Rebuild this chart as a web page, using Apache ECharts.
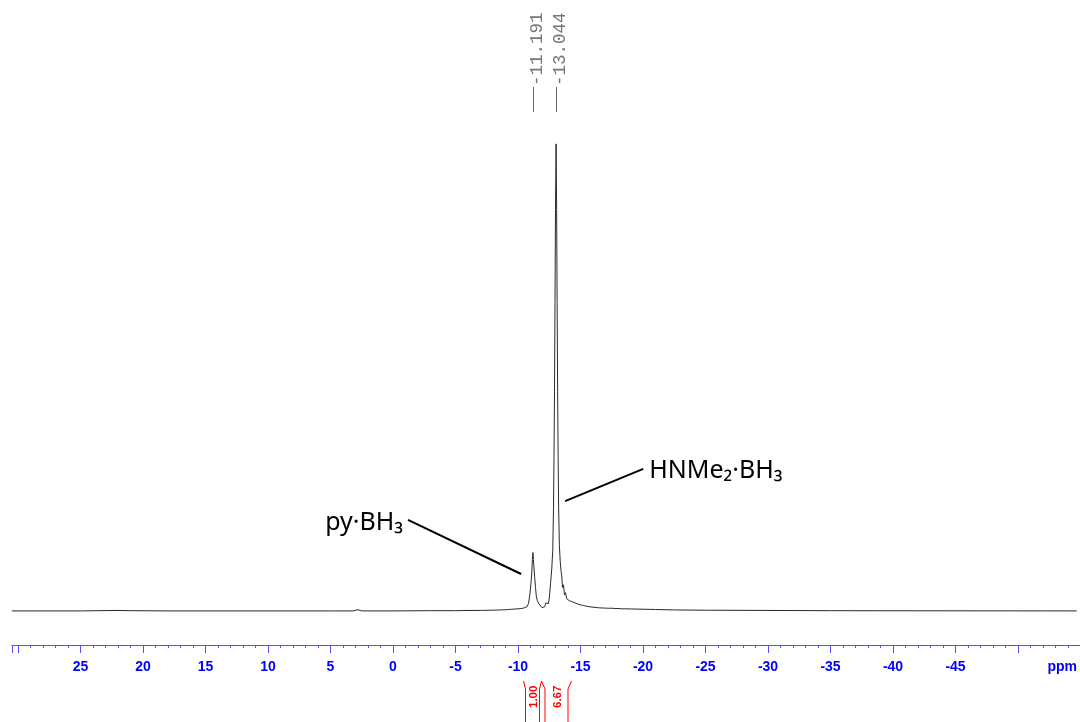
<!DOCTYPE html>
<html>
<head>
<meta charset="utf-8">
<title>11B NMR spectrum</title>
<script src="https://cdn.jsdelivr.net/npm/echarts@6/dist/echarts.min.js"></script>
<style>
  html, body { margin: 0; padding: 0; background: #ffffff; }
  #chart { width: 1080px; height: 722px; }
</style>
</head>
<body>
<div id="chart"></div>
<script>
// Chemical shift (ppm) and relative intensity of the 11B spectrum trace
const shiftPpm = [
  30.5, 25, 22, 21, 18, 10, 5, 3.2, 2.8, 2.5, 0, -3, -5, -6,
  -7.0, -7.12, -7.25, -7.37, -7.5, -7.62, -7.75, -7.87, -8.0, -8.12, -8.25, -8.37,
  -8.5, -8.62, -8.75, -8.87, -9.0, -9.12, -9.25, -9.37, -9.5, -9.62, -9.75, -9.87,
  -10.0, -10.12, -10.25, -10.37, -10.5, -10.62, -10.72, -10.84, -10.92, -10.96,
  -11.04, -11.10, -11.15, -11.191, -11.23, -11.27, -11.33, -11.40, -11.47, -11.55,
  -11.65, -11.76, -11.92, -12.06, -12.14, -12.22, -12.30, -12.38, -12.44, -12.52,
  -12.60, -12.70, -12.78, -12.84, -12.88, -12.92, -12.96, -13.00, -13.044, -13.09,
  -13.13, -13.17, -13.21, -13.25, -13.31, -13.38, -13.44, -13.50, -13.56, -13.64,
  -13.72, -13.80, -13.90, -14.00, -14.10, -14.20, -14.30, -14.40, -14.50, -14.62,
  -14.75, -14.87, -15.0, -15.12, -15.25, -15.37, -15.5, -15.62, -15.75, -15.87,
  -16.0, -16.12, -16.25, -16.37, -16.5, -16.62, -16.75, -16.87, -17.0, -17.25,
  -17.5, -17.75, -18.0, -18.25, -18.5, -19.0, -20.0, -21.0, -22.7, -25, -30, -35,
  -40, -54.7
];
const intensity = [
  0, 0, 0.1, 0.05, 0, 0, 0, 0, 0.25, 0, 0, 0.05, 0.05, 0.1,
  0.1, -0.05, 0.12, -0.05, 0.12, 0, 0.15, 0, 0.15, 0, 0.18, 0.02,
  0.2, 0.05, 0.22, 0.05, 0.25, 0.08, 0.3, 0.1, 0.35, 0.15, 0.4, 0.2,
  0.45, 0.3, 0.5, 0.45, 0.65, 0.7, 0.9, 1.6, 3.0, 3.85,
  6.0, 8.1, 11.0, 12.5, 11.0, 9.5, 7.3, 5.0, 3.0, 2.2,
  1.6, 1.3, 0.7, 0.4, 0.9, 1.7, 2.0, 1.3, 1.6, 3.2,
  5.8, 9.0, 13.0, 22.0, 33.0, 47.0, 66.0, 86.0, 100, 86.0,
  66.0, 47.0, 33.0, 22.0, 14.0, 10.5, 8.6, 7.5, 5.0, 5.6,
  3.4, 3.9, 2.6, 2.9, 2.2, 2.4, 2.0, 2.1, 1.8, 1.9,
  1.5, 1.55, 1.3, 1.35, 1.15, 1.2, 1.0, 1.05, 0.88, 0.95,
  0.8, 0.85, 0.72, 0.78, 0.66, 0.72, 0.62, 0.68, 0.6, 0.56,
  0.58, 0.5, 0.52, 0.44, 0.46, 0.42, 0.36, 0.3, 0.2, 0.15, 0.1, 0.05,
  0.03, 0
];

// Axis tick labels shown on the shift axis
const tickLabels = ['25', '20', '15', '10', '5', '0', '-5', '-10', '-15', '-20', '-25', '-30', '-35', '-40', '-45'];

// Peak picking
const peakShifts = [-11.191, -13.044];
const peakLabels = ['-11.191', '-13.044'];

// Integral regions (ppm) and their relative values
const integralRanges = [[-10.40, -11.85], [-11.87, -14.25]];
const integralValues = ['1.00', '6.67'];

// Compound assignments: leader tip and start in data coordinates
const assignments = [
  { text: 'py\u00b7BH\u2083', tip: [-10.25, 7.9], start: [-1.20, 19.5], side: 'left' },
  { text: 'HNMe\u2082\u00b7BH\u2083', tip: [-13.77, 23.5], start: [-20.02, 30.4], side: 'right' }
];

const spectrum = shiftPpm.map((p, i) => [p, intensity[i]]);

const axisBlue = '#5050ff';
const chart = echarts.init(document.getElementById('chart'), null, { renderer: 'canvas' });

chart.setOption({
  animation: false,
  backgroundColor: '#ffffff',
  grid: { left: 11.75, right: -0.5, top: 100, bottom: 77, containLabel: false, outerBoundsMode: 'none' },
  xAxis: {
    type: 'value',
    inverse: true,
    min: -55,
    max: 30.5,
    interval: 5,
    axisLine: { show: true, onZero: false, lineStyle: { color: axisBlue, width: 1 } },
    axisTick: { show: true, length: 8, lineStyle: { color: axisBlue, width: 1 } },
    minorTick: { show: true, splitNumber: 5, length: 3, lineStyle: { color: axisBlue, width: 1 } },
    splitLine: { show: false },
    minorSplitLine: { show: false },
    axisLabel: {
      margin: 15,
      color: '#0000ff',
      fontFamily: 'Liberation Sans',
      fontWeight: 'bold',
      fontSize: 14,
      showMinLabel: true,
      showMaxLabel: true,
      formatter: function (v) {
        const s = String(Math.round(v));
        return tickLabels.indexOf(s) >= 0 ? s : '';
      }
    }
  },
  yAxis: {
    type: 'value',
    min: -7.3,
    max: 109.4,
    show: false
  },
  series: [{
    type: 'line',
    data: spectrum,
    showSymbol: false,
    symbol: 'none',
    lineStyle: { color: '#2a2a2a', width: 1 },
    silent: true
  }]
});

// Overlay: peak labels, integrals and assignment labels placed through the axis scales
const px = (p, v) => chart.convertToPixel({ gridIndex: 0 }, [p, v]);
const graphics = [];

peakShifts.forEach((s, i) => {
  const x = Math.round(px(s, 0)[0]) + 0.5;
  graphics.push({
    type: 'line', silent: true,
    shape: { x1: x, y1: 87, x2: x, y2: 112 },
    style: { stroke: '#666666', lineWidth: 1 }
  });
  graphics.push({
    type: 'text', silent: true,
    x: x + 4, y: 86, rotation: Math.PI / 2,
    style: {
      text: peakLabels[i], fill: '#777777',
      font: '17.5px "Liberation Mono"',
      align: 'left', verticalAlign: 'middle',
      textAlign: 'left', textVerticalAlign: 'middle'
    }
  });
});

integralRanges.forEach((r, i) => {
  const xa = Math.round(px(r[0], 0)[0]) + 0.5;
  const xb = Math.round(px(r[1], 0)[0]) + 0.5;
  const inset = i === 0 ? 2 : 3.5;
  graphics.push({
    type: 'polyline', silent: true,
    shape: { points: [[xa, 681], [xa + inset, 689], [xa + inset, 722]] },
    style: { stroke: '#ff0000', lineWidth: 1, fill: null }
  });
  graphics.push({
    type: 'polyline', silent: true,
    shape: { points: [[xb, 681], [xb - inset, 689], [xb - inset, 722]] },
    style: { stroke: '#ff0000', lineWidth: 1, fill: null }
  });
  graphics.push({
    type: 'text', silent: true,
    x: (xa + xb) / 2 + 1, y: 708, rotation: Math.PI / 2,
    style: {
      text: integralValues[i], fill: '#ff0000',
      font: 'bold 11.5px "Liberation Sans"',
      align: 'left', verticalAlign: 'middle',
      textAlign: 'left', textVerticalAlign: 'middle'
    }
  });
});

assignments.forEach(a => {
  const t = px(a.tip[0], a.tip[1]);
  const s = px(a.start[0], a.start[1]);
  graphics.push({
    type: 'line', silent: true,
    shape: { x1: s[0], y1: s[1], x2: t[0], y2: t[1] },
    style: { stroke: '#000000', lineWidth: 2 }
  });
  const left = a.side === 'left';
  graphics.push({
    type: 'text', silent: true,
    x: left ? s[0] - 5 : s[0] + 6,
    y: left ? s[1] + 3 : s[1] + 2,
    style: {
      text: a.text, fill: '#000000',
      font: '25px "Noto Sans"',
      align: left ? 'right' : 'left', verticalAlign: 'middle',
      textAlign: left ? 'right' : 'left', textVerticalAlign: 'middle'
    }
  });
});

// Unit label at the low-field end of the shift axis
graphics.push({
  type: 'text', silent: true,
  x: 1077, y: 667,
  style: {
    text: 'ppm', fill: '#0000ff',
    font: 'bold 14px "Liberation Sans"',
    align: 'right', verticalAlign: 'middle',
    textAlign: 'right', textVerticalAlign: 'middle'
  }
});

chart.setOption({ graphic: graphics });
</script>
</body>
</html>
